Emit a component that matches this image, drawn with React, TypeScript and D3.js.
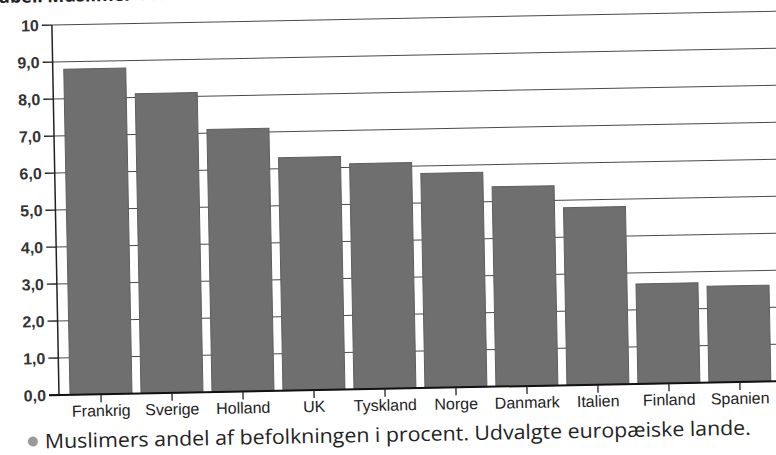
import React from 'react';
import * as d3 from 'd3';

const countries = ['Frankrig', 'Sverige', 'Holland', 'UK', 'Tyskland', 'Norge', 'Danmark', 'Italien', 'Finland', 'Spanien'];
const shares = [8.8, 8.1, 7.1, 6.3, 6.1, 5.8, 5.4, 4.8, 2.7, 2.6];
const yTicks = [0, 1, 2, 3, 4, 5, 6, 7, 8, 9, 10];
const caption = 'Muslimers andel af befolkningen i procent. Udvalgte europæiske lande.';

const W = 776;
const H = 455;
const originX = 59;
const originY = 395;

export default function App() {
  const x = d3.scaleBand<string>()
    .domain(countries)
    .range([61, 780])
    .paddingInner(0.127)
    .paddingOuter(0.127);
  const y = d3.scaleLinear().domain([0, 10]).range([originY, 25]);

  const fmt = (v: number) => (v === 10 ? '10' : d3.format('.1f')(v).replace('.', ','));

  return (
    <div style={{ position: 'fixed', left: 0, top: 0 }}>
      <svg width={W} height={H} style={{ display: 'block', background: '#fff' }}>
        {/* the scanned page is slightly tilted */}
        <g transform={`rotate(-1.1, ${originX}, ${originY})`}>
          <text x={140} y={2} textAnchor="end" fontFamily="'Open Sans', sans-serif" fontWeight="bold" fontSize={18} fill="#222">
            Tabel. Muslimer
          </text>
          <text x={148} y={2} fontFamily="'Open Sans', sans-serif" fontSize={18} fill="#bbb">
            i %
          </text>

          {yTicks.map(t => (
            <g key={t}>
              {t > 0 && (
                <line x1={originX} x2={W + 40} y1={y(t)} y2={y(t)} stroke="#4a4a4a" strokeWidth={1} />
              )}
              <line x1={originX - 10} x2={originX} y1={y(t)} y2={y(t)} stroke="#222" strokeWidth={1.3} />
              <text
                x={originX - 13}
                y={y(t)}
                dy="0.36em"
                textAnchor="end"
                fontFamily="'Liberation Sans', Arial, sans-serif"
                fontWeight="bold"
                fontSize={16}
                fill="#333"
              >
                {fmt(t)}
              </text>
            </g>
          ))}

          {countries.map((c, i) => (
            <rect
              key={c}
              x={x(c)}
              y={y(shares[i])}
              width={x.bandwidth()}
              height={y(0) - y(shares[i])}
              fill="#6f6f6f"
              stroke="#5e5e5e"
              strokeWidth={1}
            />
          ))}

          <line x1={originX} x2={originX} y1={y(10)} y2={originY} stroke="#222" strokeWidth={1.5} />
          <line x1={originX - 10} x2={W + 40} y1={originY} y2={originY} stroke="#111" strokeWidth={2} />

          {countries.map(c => {
            const cx = (x(c) ?? 0) + x.bandwidth() / 2;
            return (
              <g key={c}>
                <line x1={cx} x2={cx} y1={originY} y2={originY + 8} stroke="#222" strokeWidth={1.3} />
                <text
                  x={cx}
                  y={originY + 22}
                  textAnchor="middle"
                  fontFamily="'Liberation Sans Narrow', 'Arial Narrow', sans-serif"
                  fontSize={16}
                  fill="#222"
                >
                  {c}
                </text>
              </g>
            );
          })}

          <circle cx={32} cy={441} r={5} fill="#9a9a9a" />
          <text
            x={44}
            y={448}
            fontFamily="'Open Sans', sans-serif"
            fontSize={20}
            fill="#222"
            textLength={706}
            lengthAdjust="spacingAndGlyphs"
          >
            {caption}
          </text>
        </g>
      </svg>
    </div>
  );
}
